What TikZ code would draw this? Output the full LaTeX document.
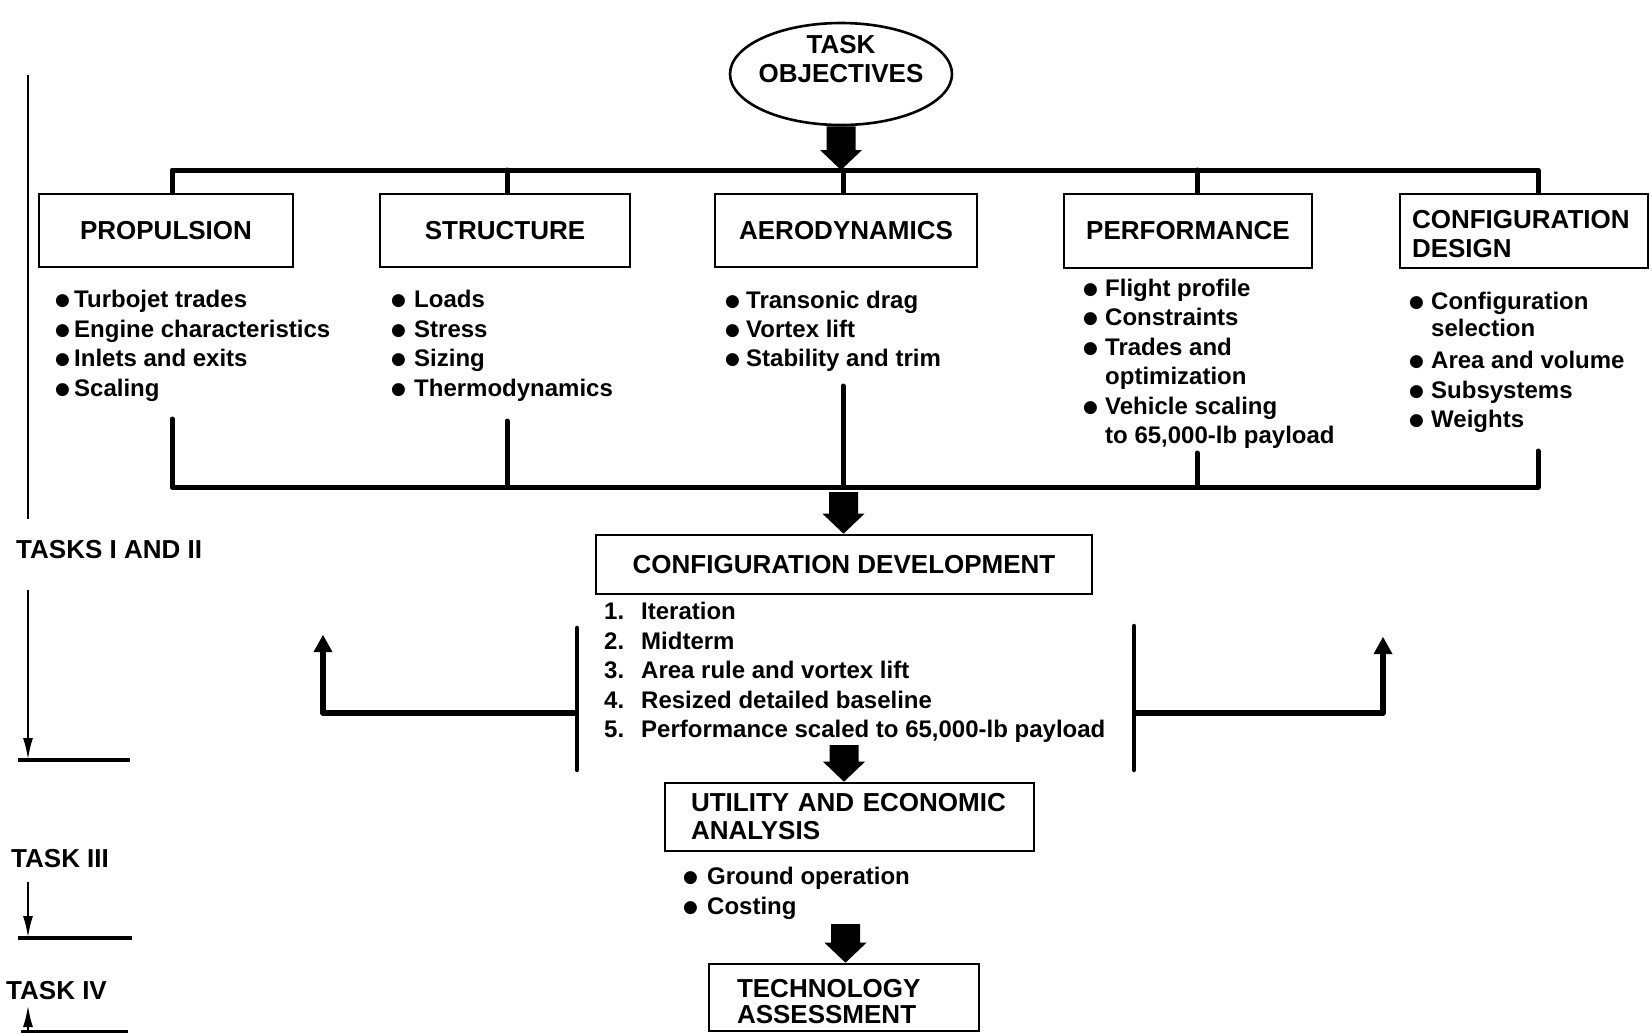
\documentclass[tikz,border=0pt]{standalone}
\usepackage{fontspec}
\setmainfont{Liberation Sans}
\newfontfamily\symfont{DejaVu Sans}
\usetikzlibrary{shapes.geometric,arrows.meta,calc}
\newcommand\itemfont{\fontsize{24}{29.5}\selectfont\bfseries}
\newcommand\hdrfont{\fontsize{26}{29}\selectfont\bfseries}
\newcommand\bul[1]{\makebox[#1][l]{\raisebox{1.5pt}{\symfont\fontsize{17}{17}\selectfont ●}}}
\newcommand\ind[1]{\makebox[#1][l]{}}
\newcommand\blockarrow[2]{%
  \fill let \p1=#1, \p2=#2 in
   (\x1-14.5pt,\y1) -- (\x1+14.5pt,\y1) -- (\x1+14.5pt,\y2+20pt) -- (\x1+21pt,\y2+20pt)
   -- (\x1,\y2) -- (\x1-21pt,\y2+20pt) -- (\x1-14.5pt,\y2+20pt) -- cycle;}
\begin{document}
\begin{tikzpicture}[x=1pt,y=-1pt,
  box/.style={draw, line width=2.6pt, rectangle, inner sep=0pt, font=\hdrfont},
  itm/.style={anchor=base west, inner sep=0pt, font=\itemfont},
  bar/.style={line width=5pt, line cap=round, line join=round},
  brk/.style={line width=4.5pt, line cap=round},
  tline/.style={line width=2.4pt},
  base/.style={line width=3.5pt},
  fbk/.style={line width=6pt, line join=round, -{Triangle[width=19pt,length=17pt,line width=0pt]}},
  small/.style={-{Latex[length=22pt,width=10pt]}}
]
\useasboundingbox (0,0) rectangle (1652,1034);
\fill[white] (0,0) rectangle (1652,1034);

% top objective
\node[ellipse, draw, line width=2.6pt, minimum width=222pt, minimum height=102pt, inner sep=0pt] (obj) at (841,74) {};
\node[font=\hdrfont, align=center, inner sep=0pt] (objt) at (841,59) {TASK\\OBJECTIVES};

% discipline boxes
\node[box, minimum width=254pt, minimum height=73pt] (prop) at (166,230.5) {PROPULSION};
\node[box, minimum width=250pt, minimum height=73pt] (str) at (505,230.5) {STRUCTURE};
\node[box, minimum width=262pt, minimum height=73pt] (aero) at (846,230.5) {AERODYNAMICS};
\node[box, minimum width=248pt, minimum height=74pt] (perf) at (1188,231) {PERFORMANCE};
\node[box, minimum width=248pt, minimum height=74pt, align=left, text width=224pt, inner xsep=12pt] (cfg) at (1524,231) {\rule{0pt}{24pt}CONFIGURATION\\DESIGN};

% lists
\node[itm] (p1) at (55,307) {\bul{19pt}Turbojet trades};
\node[itm] (p2) at (55,337) {\bul{19pt}Engine characteristics};
\node[itm] (p3) at (55,366) {\bul{19pt}Inlets and exits};
\node[itm] (p4) at (55,396) {\bul{19pt}Scaling};

\node[itm] (s1) at (391,307) {\bul{23pt}Loads};
\node[itm] (s2) at (391,337) {\bul{23pt}Stress};
\node[itm] (s3) at (391,366) {\bul{23pt}Sizing};
\node[itm] (s4) at (391,396) {\bul{23pt}Thermodynamics};

\node[itm] (a1) at (725,308) {\bul{21pt}Transonic drag};
\node[itm] (a2t) at (725,337) {\bul{21pt}Vortex lift};
\node[itm] (a3t) at (725,366) {\bul{21pt}Stability and trim};

\node[itm] (f1) at (1083,296) {\bul{22pt}Flight profile};
\node[itm] (f2) at (1083,325) {\bul{22pt}Constraints};
\node[itm] (f3) at (1083,355) {\bul{22pt}Trades and};
\node[itm] (f4) at (1083,384) {\ind{22pt}optimization};
\node[itm] (f5) at (1083,414) {\bul{22pt}Vehicle scaling};
\node[itm] (f6) at (1083,443) {\ind{22pt}to 65,000-lb payload};

\node[itm] (c1) at (1409,309) {\bul{22pt}Configuration};
\node[itm] (c2) at (1409,336) {\ind{22pt}selection};
\node[itm] (c3) at (1409,368) {\bul{22pt}Area and volume};
\node[itm] (c4) at (1409,398) {\bul{22pt}Subsystems};
\node[itm] (c5) at (1409,427) {\bul{22pt}Weights};

% configuration development
\node[box, minimum width=496pt, minimum height=59pt] (cdev) at (844,564.5) {CONFIGURATION DEVELOPMENT};
\node[itm] (n1) at (604,619) {\makebox[37pt][l]{1.}Iteration};
\node[itm] (n2) at (604,649) {\makebox[37pt][l]{2.}Midterm};
\node[itm] (n3) at (604,678) {\makebox[37pt][l]{3.}Area rule and vortex lift};
\node[itm] (n4) at (604,708) {\makebox[37pt][l]{4.}Resized detailed baseline};
\node[itm] (n5) at (604,737) {\makebox[37pt][l]{5.}Performance scaled to 65,000-lb payload};

% utility
\node[box, minimum width=369pt, minimum height=68pt, align=left, text width=317pt, inner xsep=26pt, font=\fontsize{26}{28}\selectfont\bfseries] (util) at (849.5,817) {UTILITY AND ECONOMIC\\ANALYSIS};
\node[itm] (u1) at (683,884) {\bul{24pt}Ground operation};
\node[itm] (u2) at (683,914) {\bul{24pt}Costing};

% technology
\node[box, minimum width=270pt, minimum height=67pt, align=left, text width=214pt, inner xsep=28pt, font=\fontsize{26}{26}\selectfont\bfseries] (tech) at (844,997.5) {\rule{0pt}{26pt}TECHNOLOGY\\ASSESSMENT};

% task labels
\node[itm, font=\hdrfont] (lab1) at (16,558) {TASKS I AND II};
\node[itm, font=\hdrfont] (lab3) at (11,867) {TASK III};
\node[itm, font=\hdrfont] (lab4) at (6,999) {TASK IV};

% top distribution bar
\coordinate (tb) at (0,170);
\coordinate (ps) at (172,0);
\coordinate (ss) at (507,0);
\coordinate (as) at (843,0);
\coordinate (fs) at (1197,0);
\coordinate (cs) at (1538,0);
\draw[bar] (ps |- prop.north) -- (ps |- tb) -- (cs |- tb) -- (cs |- cfg.north);
\draw[bar] (ss |- tb) -- (ss |- str.north);
\draw[bar] (as |- tb) -- (as |- aero.north);
\draw[bar] (fs |- tb) -- (fs |- perf.north);
\blockarrow{(obj.south)}{(obj.south |- tb)}

% bottom collecting bar
\coordinate (bb) at (0,487);
\coordinate (pbt) at (172,419);
\coordinate (sbt) at (507,421);
\coordinate (abt) at (843,386);
\coordinate (fbt) at (1197,453);
\coordinate (cbt) at (1538,451);
\draw[bar] (pbt) -- (pbt |- bb) -- (cbt |- bb) -- (cbt);
\draw[bar] (sbt) -- (sbt |- bb);
\draw[bar] (abt) -- (abt |- bb);
\draw[bar] (fbt) -- (fbt |- bb);

% block arrows down the middle
\coordinate (ar2) at (843.5,492);
\blockarrow{(ar2)}{(ar2 |- cdev.north)}
\coordinate (ar3) at (844,745);
\blockarrow{(ar3)}{(ar3 |- util.north)}
\coordinate (ar4) at (845.5,924);
\blockarrow{(ar4)}{(ar4 |- tech.north)}

% brackets and feedback arrows
\coordinate (lbt) at (577,628);
\coordinate (lbb) at (577,770);
\coordinate (rbt) at (1134,626);
\coordinate (rbb) at (1134,770);
\draw[brk] (lbt) -- (lbb);
\draw[brk] (rbt) -- (rbb);
\coordinate (lfs) at (577,713);
\coordinate (lft) at (323,635);
\coordinate (rfs) at (1134,713);
\coordinate (rft) at (1383,637);
\draw[fbk] (lfs) -| (lft);
\draw[fbk] (rfs) -| (rft);

% left task timeline
\coordinate (t1a) at (28,75);
\coordinate (t1b) at (28,519);
\draw[tline] (t1a) -- (t1b);
\coordinate (t2a) at (28,590);
\coordinate (t2b) at (28,760);
\draw[tline, small] (t2a) -- (t2b);
\coordinate (t2l) at (18,760);
\coordinate (t2r) at (130,760);
\draw[base] (t2l) -- (t2r);
\coordinate (t3a) at (28,882);
\coordinate (t3b) at (28,938);
\draw[tline, small] (t3a) -- (t3b);
\coordinate (t3l) at (18,938);
\coordinate (t3r) at (132,938);
\draw[base] (t3l) -- (t3r);
\coordinate (t4a) at (28,1032);
\coordinate (t4b) at (28,1005);
\draw[tline, small] (t4a) -- (t4b);
\coordinate (t4l) at (21,1031.5);
\coordinate (t4r) at (128,1031.5);
\draw[base] (t4l) -- (t4r);
\end{tikzpicture}
\end{document}
